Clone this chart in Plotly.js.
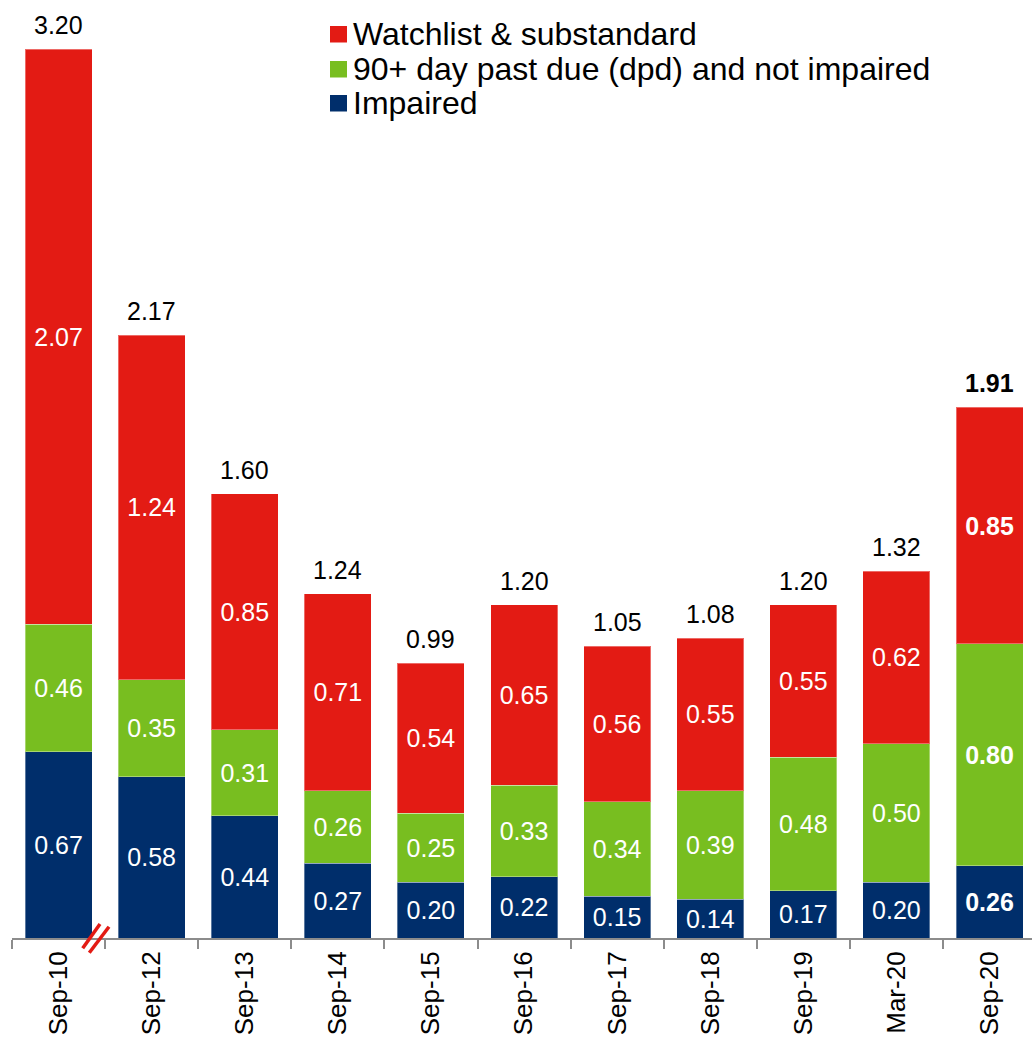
<!DOCTYPE html>
<html>
<head>
<meta charset="utf-8">
<script src="https://cdn.plot.ly/plotly-3.0.1.min.js"></script>
<style>html,body{margin:0;padding:0;background:#fff;}#chart{width:1032px;height:1040px;}</style>
</head>
<body>
<div id="chart"></div>
<script>
const categories = ['Sep-10','Sep-12','Sep-13','Sep-14','Sep-15','Sep-16','Sep-17','Sep-18','Sep-19','Mar-20','Sep-20'];
const impaired  = [0.67,0.58,0.44,0.27,0.20,0.22,0.15,0.14,0.17,0.20,0.26];
const pastDue   = [0.46,0.35,0.31,0.26,0.25,0.33,0.34,0.39,0.48,0.50,0.80];
const watchlist = [2.07,1.24,0.85,0.71,0.54,0.65,0.56,0.55,0.55,0.62,0.85];
const totals    = [3.20,2.17,1.60,1.24,0.99,1.20,1.05,1.08,1.20,1.32,1.91];
const seriesNames = ['Impaired','90+ day past due (dpd) and not impaired','Watchlist & substandard'];
const colors = ['#002E6B','#78BE20','#E31B14'];

const lastIdx = categories.length - 1;
const fmt = (v, i) => i === lastIdx ? '<b>' + v.toFixed(2) + '</b>' : v.toFixed(2);
const FONT = 'Liberation Sans, Arial, sans-serif';

// plot geometry (pixels) used to place the hand-built legend and the axis-break mark
const W = 1032, H = 1040, ML = 12, MB = 102;
const PW = W - ML, PH = H - MB;
const px = x => (x - ML) / PW;
const py = y => (PH - y) / PH;

const traces = [impaired, pastDue, watchlist].map((vals, k) => ({
  type: 'bar',
  name: seriesNames[k],
  x: categories,
  y: vals,
  width: 0.72,
  marker: {color: colors[k], line: {color: 'rgba(255,255,255,0.35)', width: 1}},
  text: vals.map(fmt),
  textposition: 'inside',
  insidetextanchor: 'middle',
  textangle: 0,
  textfont: {family: FONT, size: 25, color: '#ffffff'},
  constraintext: 'none',
  showlegend: false,
  hoverinfo: 'x+y+name'
}));

const annotations = totals.map((t, i) => ({
  x: categories[i], y: t, xref: 'x', yref: 'y',
  text: fmt(t, i), showarrow: false,
  yanchor: 'bottom', yshift: 8,
  font: {family: FONT, size: 25, color: '#000000'}
}));

// legend (top entry = last series)
const legendRows = [34, 69, 103];
const shapes = [];
[2, 1, 0].forEach((k, r) => {
  const cy = legendRows[r];
  shapes.push({type: 'rect', xref: 'paper', yref: 'paper',
    x0: px(330), x1: px(347), y0: py(cy - 8), y1: py(cy + 8.5),
    fillcolor: colors[k], line: {width: 0}});
  annotations.push({xref: 'paper', yref: 'paper', x: px(351), y: py(cy),
    xanchor: 'left', yanchor: 'middle', showarrow: false,
    text: seriesNames[k], font: {family: FONT, size: 32, color: '#000000'}});
});

// axis-break mark
const bx = px(104.3);
shapes.push(
  {type: 'line', xref: 'paper', yref: 'paper', xsizemode: 'pixel', ysizemode: 'pixel',
   xanchor: bx, yanchor: 0, x0: -21.6, y0: -10.3, x1: -4.3, y1: 14,
   line: {color: '#E31B14', width: 3.5}},
  {type: 'line', xref: 'paper', yref: 'paper', xsizemode: 'pixel', ysizemode: 'pixel',
   xanchor: bx, yanchor: 0, x0: -15, y0: -14.7, x1: 4.7, y1: 11.3,
   line: {color: '#E31B14', width: 3.5}}
);

const layout = {
  width: W, height: H,
  margin: {l: ML, r: 0, t: 0, b: MB},
  paper_bgcolor: '#ffffff', plot_bgcolor: '#ffffff',
  barmode: 'stack',
  font: {family: FONT, color: '#000000'},
  showlegend: false,
  xaxis: {
    type: 'category',
    range: [-0.5, 10.456],
    showline: true, linecolor: '#8c8c8c', linewidth: 2,
    ticks: 'outside', tickson: 'boundaries', ticklen: 9, tickcolor: '#8c8c8c', tickwidth: 2,
    tickangle: -90, ticklabelstandoff: 1,
    tickfont: {family: FONT, size: 26, color: '#000000'},
    showgrid: false, zeroline: false, fixedrange: true
  },
  yaxis: {
    range: [0, 3.377],
    visible: false, showgrid: false, zeroline: false, fixedrange: true
  },
  annotations: annotations,
  shapes: shapes
};

Plotly.newPlot('chart', traces, layout, {displayModeBar: false, staticPlot: true});
</script>
</body>
</html>
